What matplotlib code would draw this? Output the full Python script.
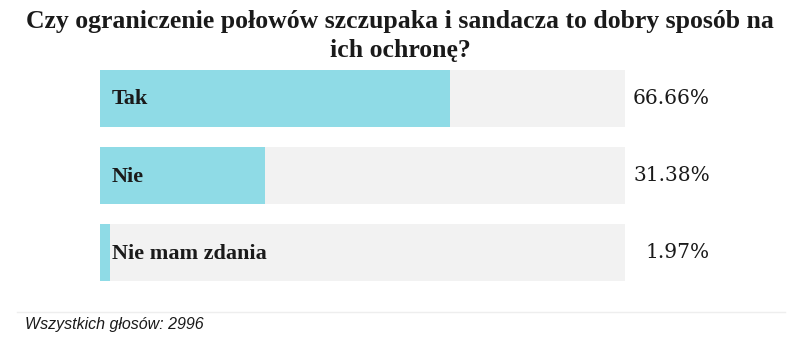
import matplotlib
matplotlib.use("Agg")
import matplotlib.pyplot as plt
from matplotlib.lines import Line2D

title = "Czy ograniczenie połowów szczupaka i sandacza to dobry sposób na\nich ochronę?"
categories = ["Tak", "Nie", "Nie mam zdania"]
values = [66.66, 31.38, 1.97]
pct_labels = ["66.66%", "31.38%", "1.97%"]
total_votes = 2996

W, H = 800, 353
fig = plt.figure(figsize=(W / 100, H / 100), dpi=100)
fig.patch.set_facecolor("white")

ax = fig.add_axes([100 / W, (H - 281) / H, 525 / W, 211 / H])
ypos = list(range(len(categories)))
ax.barh(ypos, [100] * len(categories), height=0.74, color="#f2f2f2", linewidth=0)
ax.barh(ypos, values, height=0.74, color="#8fdbe6", linewidth=0)
ax.set_xlim(0, 100)
ax.set_ylim(len(categories) - 1 + 0.37, -0.37)
ax.axis("off")

for y, cat, lab in zip(ypos, categories, pct_labels):
    ax.annotate(cat, xy=(0, y), xycoords=("axes fraction", "data"),
                xytext=(12, -1), textcoords="offset pixels",
                ha="left", va="center", fontsize=16, fontweight="bold",
                family="Liberation Serif", color="#1a1a1a")
    ax.annotate(lab, xy=((710 - 100) / 525, y), xycoords=("axes fraction", "data"),
                ha="right", va="center", fontsize=14.5,
                family="DejaVu Serif", color="#1a1a1a")

fig.text(0.5, 1 - 36 / H, title, ha="center", va="center", fontsize=18.5,
         fontweight="bold", family="Liberation Serif", color="#1a1a1a",
         linespacing=1.3)

fig.add_artist(Line2D([17 / W, 785 / W], [1 - 312 / H, 1 - 312 / H],
                      transform=fig.transFigure, color="#eeeeee", linewidth=1))
fig.text(25 / W, 1 - 325 / H, f"Wszystkich głosów: {total_votes}", ha="left",
         va="center", fontsize=11.5, style="italic", family="Liberation Sans",
         color="#1a1a1a")

fig.savefig("out.png", dpi=100, facecolor="white")
